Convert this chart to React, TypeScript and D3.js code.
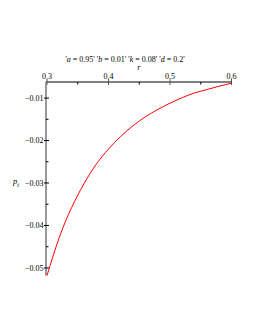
import React from "react";
import * as d3 from "d3";

const rValues = [0.30, 0.32, 0.34, 0.36, 0.38, 0.40, 0.42, 0.44, 0.46, 0.48, 0.50, 0.52, 0.54, 0.56, 0.58, 0.60];
const ptValues = [-0.0518, -0.0428, -0.0358, -0.0302, -0.0256, -0.0220, -0.0190, -0.0165, -0.0144, -0.0127, -0.0112, -0.0099, -0.0088, -0.0080, -0.0072, -0.0065];
const xMajor = [0.3, 0.4, 0.5, 0.6];
const xMinor = [0.35, 0.45, 0.55];
const yMajor = [-0.01, -0.02, -0.03, -0.04, -0.05];
const yMinor = [-0.015, -0.025, -0.035, -0.045];

export default function App() {
  const W = 255, H = 330;
  const x = d3.scaleLinear().domain([0.3, 0.6]).range([47, 231.5]);
  const y = d3.scaleLinear().domain([-0.0518, -0.0065]).range([275.6, 83.2]);
  const axisY = 82;
  const axisX = 46;
  const data = rValues.map((r, i) => [r, ptValues[i]] as [number, number]);
  const line = d3.line<[number, number]>().x(d => x(d[0])).y(d => y(d[1])).curve(d3.curveNatural);
  const font = "'Liberation Serif', 'DejaVu Serif', serif";
  return (
    <svg width={W} height={H} style={{ position: "absolute", left: 0, top: 0, background: "#fff" }} fontFamily={font}>
      <rect x={0} y={0} width={W} height={H} fill="#fff" />
      <text x={125} y={61.5} fontSize={8} textAnchor="middle" fill="#000">
        '<tspan fontStyle="italic">a</tspan> = 0.95' '<tspan fontStyle="italic">b</tspan> = 0.01' '<tspan fontStyle="italic">k</tspan> = 0.08' '<tspan fontStyle="italic">d</tspan> = 0.2'
      </text>
      <text x={139} y={70} fontSize={8.5} fontStyle="italic" textAnchor="middle" fill="#000">r</text>
      {/* x axis top */}
      <line x1={axisX} x2={x(0.6)} y1={axisY} y2={axisY} stroke="#000" strokeWidth={1} />
      {xMajor.map(v => (
        <g key={"xm" + v}>
          <line x1={x(v)} x2={x(v)} y1={axisY - 3} y2={axisY + 3} stroke="#555" strokeWidth={1} />
          <text x={x(v)} y={78.5} fontSize={8} textAnchor="middle" fill="#000">{v.toFixed(1)}</text>
        </g>
      ))}
      {xMinor.map(v => (
        <line key={"xn" + v} x1={x(v)} x2={x(v)} y1={axisY} y2={axisY + 2.5} stroke="#000" strokeWidth={1} />
      ))}
      {/* y axis left */}
      <line x1={axisX} x2={axisX} y1={axisY} y2={y(-0.0518)} stroke="#777" strokeWidth={1.5} />
      {yMajor.map(v => (
        <g key={"ym" + v}>
          <line x1={axisX - 2} x2={axisX + 3} y1={y(v)} y2={y(v)} stroke="#000" strokeWidth={1} />
          <text x={axisX - 2.5} y={y(v) + 2.8} fontSize={8} textAnchor="end" fill="#000">{"\u2212" + Math.abs(v).toFixed(2)}</text>
        </g>
      ))}
      {yMinor.map(v => (
        <line key={"yn" + v} x1={axisX} x2={axisX + 2.5} y1={y(v)} y2={y(v)} stroke="#000" strokeWidth={1} />
      ))}
      <text x={13} y={184} fontSize={8.5} fontStyle="italic" fill="#000">p<tspan fontSize={6} dy={2.5} fontStyle="italic">t</tspan></text>
      <path d={line(data) || ""} fill="none" stroke="#ff0000" strokeWidth={1} />
    </svg>
  );
}
